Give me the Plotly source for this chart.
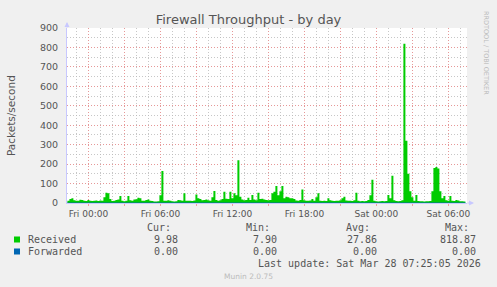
import plotly.graph_objects as go
import pandas as pd

# ---- data (packets/second, 10-minute steps from Thu 22:15) ----
start_time = "2026-03-26 22:15"
received = [
    12, 20, 24, 14, 11, 12, 17, 16, 11, 10,
    15, 12, 10, 11, 13, 10, 13, 11, 30, 53,
    50, 20, 10, 11, 16, 18, 36, 12, 9, 11,
    36, 14, 11, 18, 19, 27, 25, 11, 12, 16,
    18, 11, 10, 8, 8, 9, 40, 165, 12, 12,
    14, 12, 9, 8, 9, 15, 14, 12, 50, 12,
    11, 12, 10, 13, 44, 24, 20, 14, 15, 18,
    14, 12, 30, 62, 16, 12, 14, 20, 58, 22,
    20, 58, 25, 50, 40, 220, 32, 18, 14, 15,
    27, 15, 41, 18, 14, 53, 20, 22, 18, 15,
    14, 15, 50, 58, 87, 40, 60, 87, 24, 32,
    30, 24, 24, 20, 13, 12, 15, 70, 14, 12,
    11, 13, 20, 11, 30, 50, 12, 10, 11, 10,
    24, 14, 11, 10, 11, 12, 14, 25, 32, 13,
    11, 12, 10, 14, 53, 12, 9, 10, 9, 10,
    15, 40, 120, 12, 9, 8, 9, 10, 9, 10,
    41, 25, 140, 14, 10, 9, 10, 14, 818.87, 320,
    150, 60, 30, 12, 41, 10, 9, 9, 8, 9,
    9, 10, 60, 180, 185, 178, 60, 25, 36, 14,
    12, 36, 11, 10, 15, 13, 9, 9, 8, 9.98,
]
forwarded = [0.0] * len(received)

x_range = ["2026-03-26 22:13", "2026-03-28 07:33"]
x_tickvals = ["2026-03-27 00:00", "2026-03-27 03:00", "2026-03-27 06:00", "2026-03-27 09:00",
              "2026-03-27 12:00", "2026-03-27 15:00", "2026-03-27 18:00", "2026-03-27 21:00",
              "2026-03-28 00:00", "2026-03-28 03:00", "2026-03-28 06:00"]
x_ticktext = ["Fri 00:00", "", "Fri 06:00", "", "Fri 12:00", "", "Fri 18:00", "",
              "Sat 00:00", "", "Sat 06:00"]
y_tickvals = [0, 100, 200, 300, 400, 500, 600, 700, 800, 900]

series_names = ["Received", "Forwarded"]
series_colors = ["#00CC00", "#0066B3"]
stats_headers = ["Cur:", "Min:", "Avg:", "Max:"]
stats = {
    "Received": ["9.98", "7.90", "27.86", "818.87"],
    "Forwarded": ["0.00", "0.00", "0.00", "0.00"],
}
last_update = "Last update: Sat Mar 28 07:25:05 2026"
footer = "Munin 2.0.75"

times = pd.date_range(start_time, periods=len(received), freq="10min")

# ---- geometry helpers (pixel -> paper) ----
W, H = 497, 287
L, R, T, B = 67, 30, 28, 84
PW, PH = W - L - R, H - T - B


def px(x):
    return (x - L) / PW


def py(y):
    return (H - B - y) / PH


fig = go.Figure()
fig.add_trace(go.Scatter(x=times, y=received, mode="lines", line=dict(width=0, shape="hv", color="#00CC00"),
                         fill="tozeroy", fillcolor="#00CC00", hoverinfo="skip", showlegend=False))
fig.add_trace(go.Scatter(x=times, y=forwarded, mode="lines", line=dict(width=1, shape="hv", color="#0066B3"),
                         hoverinfo="skip", showlegend=False))

grid_major = "rgba(238,140,140,0.8)"
grid_minor = "rgba(185,185,185,0.8)"
axis_col = "rgb(200,200,255)"
txt = "#555555"
dash = "1px,2px"

fig.update_layout(
    width=W, height=H,
    margin=dict(l=L, r=R, t=T, b=B),
    paper_bgcolor="#F0F0F0",
    plot_bgcolor="#FFFFFF",
    font=dict(family="DejaVu Sans", color=txt),
    title=dict(text="Firewall Throughput - by day", x=0.5, xanchor="center",
               y=1 - 19 / H, yanchor="middle", font=dict(size=13, color="#555555")),
    xaxis=dict(
        type="date", range=x_range, tickmode="array", tickvals=x_tickvals, ticktext=x_ticktext,
        showgrid=True, gridcolor=grid_major, griddash=dash, gridwidth=1,
        showline=True, linecolor=axis_col, linewidth=1,
        ticks="outside", ticklen=2, tickcolor=grid_major,
        tickfont=dict(size=9, color=txt, family="DejaVu Sans"),
        minor=dict(dtick=3600000, tick0="2026-03-27 00:00", showgrid=True,
                   gridcolor=grid_minor, griddash=dash, gridwidth=1, ticks=""),
        zeroline=False, fixedrange=True,
    ),
    yaxis=dict(
        range=[0, 900], tickmode="array", tickvals=y_tickvals,
        showgrid=True, gridcolor=grid_major, griddash=dash, gridwidth=1,
        showline=True, linecolor=axis_col, linewidth=1,
        ticks="", ticklabelstandoff=6,
        tickfont=dict(size=9.5, color=txt, family="DejaVu Sans"),
        minor=dict(dtick=50, showgrid=True, gridcolor=grid_minor, griddash=dash, gridwidth=1),
        zeroline=False, fixedrange=True,
    ),
)

ann = []
# y axis title
ann.append(dict(text="Packets/second", x=px(11), y=py(115), xref="paper", yref="paper",
                showarrow=False, textangle=-90, font=dict(size=10.5, color=txt),
                xanchor="center", yanchor="middle"))
# rrdtool credit
ann.append(dict(text="RRDTOOL / TOBI OETIKER", x=px(486), y=py(53), xref="paper", yref="paper",
                showarrow=False, textangle=90, font=dict(size=6.5, color="#BBBBBB"),
                xanchor="center", yanchor="middle"))

mono = "DejaVu Sans Mono"
head_x = [173, 272, 372, 471]
val_x = [180, 279, 379, 478]
for h, hx in zip(stats_headers, head_x):
    ann.append(dict(text=h, x=px(hx), y=py(227.5), xref="paper", yref="paper", showarrow=False,
                    xanchor="right", yanchor="middle", font=dict(family=mono, size=10, color=txt)))
row_y = [239.5, 251.5]
shapes = []
for name, col, ry in zip(series_names, series_colors, row_y):
    ann.append(dict(text=name, x=px(26), y=py(ry), xref="paper", yref="paper", showarrow=False,
                    xanchor="left", yanchor="middle", font=dict(family=mono, size=10, color=txt)))
    shapes.append(dict(type="rect", xref="paper", yref="paper", x0=px(14), x1=px(20),
                       y0=py(ry + 3), y1=py(ry - 3), fillcolor=col, line=dict(width=0)))
    for v, vx in zip(stats[name], val_x):
        ann.append(dict(text=v, x=px(vx), y=py(ry), xref="paper", yref="paper", showarrow=False,
                        xanchor="right", yanchor="middle", font=dict(family=mono, size=10, color=txt)))
ann.append(dict(text=last_update, x=px(483), y=py(263.5), xref="paper", yref="paper", showarrow=False,
                xanchor="right", yanchor="middle", font=dict(family=mono, size=10, color=txt)))
ann.append(dict(text=footer, x=px(248), y=py(276), xref="paper", yref="paper", showarrow=False,
                xanchor="center", yanchor="middle", font=dict(family="DejaVu Sans", size=7.5, color="#BBBBBB")))
# axis arrow heads
ann.append(dict(x=px(67), y=py(22), ax=0, ay=7, xref="paper", yref="paper", axref="pixel",
                ayref="pixel", showarrow=True, arrowhead=2, arrowsize=1, arrowwidth=1, arrowcolor=axis_col, text=""))
ann.append(dict(x=px(474), y=py(203), ax=-8, ay=0, xref="paper", yref="paper", axref="pixel",
                ayref="pixel", showarrow=True, arrowhead=2, arrowsize=1, arrowwidth=1, arrowcolor=axis_col, text=""))

fig.update_layout(annotations=ann, shapes=shapes)
fig.write_html("out.html")
